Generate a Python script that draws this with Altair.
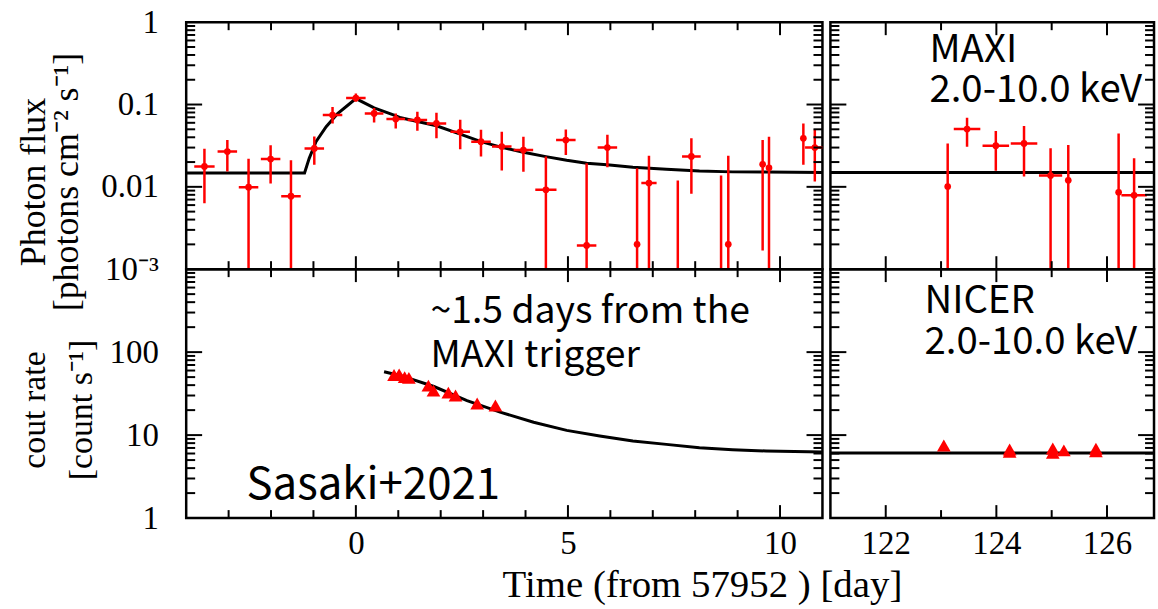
import altair as alt
import pandas as pd

# ---------------- data ----------------
# MAXI, early part (days from MJD 57952)
MAXI1_T = [-3.57, -3.03, -2.53, -2.01, -1.53, -0.98, -0.55, 0.0, 0.43, 0.94, 1.45, 1.90, 2.46, 2.95,
           3.44, 3.95, 4.48, 4.95, 5.44, 5.93, 6.63, 6.91, 7.59, 7.91, 8.61, 8.78, 9.59, 9.74, 10.55, 10.82]
MAXI1_F = [0.0177, 0.0268, 0.0099, 0.0218, 0.0077, 0.0293, 0.0744, 0.120, 0.078, 0.0665, 0.065, 0.059,
           0.0467, 0.0354, 0.0309, 0.028, 0.0092, 0.0371, 0.00194, 0.030, 0.002, 0.0111, None, 0.0234,
           None, 0.002, 0.0188, 0.017, 0.0388, 0.030]
MAXI1_LO = [0.0063, 0.0154, 0.001, 0.011, 0.001, 0.0186, 0.059, 0.108, 0.0606, 0.0513, 0.048, 0.0388,
            0.0286, 0.0233, 0.0158, 0.0153, 0.001, 0.0244, 0.001, 0.0173, 0.001, 0.001, 0.001, 0.00826,
            0.001, 0.001, 0.00169, 0.001, 0.0185, 0.0116]
MAXI1_HI = [0.029, 0.037, 0.022, 0.032, 0.021, 0.041, 0.093, 0.136, 0.091, 0.078, 0.0816, 0.0795,
            0.0653, 0.0494, 0.0468, 0.0407, 0.0233, 0.0499, 0.0193, 0.043, 0.0168, 0.0238, 0.0119, 0.0388,
            0.0137, 0.0238, 0.0371, 0.0407, 0.0589, 0.0499]
MAXI1_DT = [0.24, 0.23, 0.23, 0.23, 0.23, 0.23, 0.23, 0.23, 0.22, 0.22, 0.23, 0.23, 0.23, 0.23,
            0.23, 0.23, 0.25, 0.23, 0.23, 0.23, 0.0, 0.18, 0.0, 0.22, 0.0, 0.0, 0.0, 0.0, 0.0, 0.23]

# MAXI, late part
MAXI2_T = [123.12, 123.47, 123.99, 124.50, 124.98, 125.30, 126.21, 126.49]
MAXI2_F = [0.0101, 0.0504, 0.0316, 0.0337, 0.0137, 0.012, 0.0086, 0.0079]
MAXI2_LO = [0.001, 0.0308, 0.0157, 0.0134, 0.001, 0.001, 0.001, 0.001]
MAXI2_HI = [0.0337, 0.069, 0.0477, 0.0548, 0.0294, 0.0323, 0.0446, 0.0222]
MAXI2_DT = [0.0, 0.24, 0.24, 0.24, 0.21, 0.0, 0.0, 0.23]

# MAXI model curve
MAXI1_MODEL_T = [-4.0, -1.21, -1.10, -0.94, -0.70, -0.43, -0.19, 0.0, 0.43, 0.90, 1.06, 1.90, 2.46,
                 2.95, 3.44, 3.95, 4.48, 4.97, 5.44, 5.92, 6.53, 7.32, 8.10, 8.88, 9.66, 11.0]
MAXI1_MODEL_F = [0.0147, 0.0147, 0.0222, 0.0354, 0.0537, 0.0778, 0.098, 0.118, 0.091, 0.0745, 0.069,
                 0.0552, 0.0438, 0.0354, 0.0302, 0.0263, 0.0233, 0.021, 0.0194, 0.0185, 0.0173, 0.0164,
                 0.0156, 0.0152, 0.0151, 0.0149]
MAXI2_MODEL_T = [121.0, 126.85]
MAXI2_MODEL_F = [0.0149, 0.0149]

# NICER count rate
NICER1_T = [0.90, 1.02, 1.15, 1.25, 1.71, 1.83, 2.18, 2.35, 2.86, 3.29]
NICER1_R = [53, 54, 50, 49, 39.5, 34.4, 32.5, 30, 24, 22.7]
NICER2_T = [123.05, 124.24, 124.24, 125.02, 125.02, 125.22, 125.80, 125.80]
NICER2_R = [7.5, 6.7, 6.3, 6.9, 6.1, 6.55, 6.85, 6.4]

NICER1_MODEL_T = [0.665, 1.06, 1.84, 2.62, 3.40, 4.19, 4.97, 5.75, 6.53, 7.32, 8.10, 8.88, 9.67, 11.0]
NICER1_MODEL_R = [58, 52, 38.5, 26, 18.9, 14.3, 11.4, 9.73, 8.47, 7.73, 7.05, 6.67, 6.43, 6.25]
NICER2_MODEL_T = [121.0, 126.85]
NICER2_MODEL_R = [6.1, 6.1]

# axes
X1_DOMAIN = [-4, 11]
X2_DOMAIN = [121, 126.85]
Y1_DOMAIN = [0.001, 1]
Y2_DOMAIN = [1, 1000]
X1_LABELS = [0, 5, 10]
X2_LABELS = [122, 124, 126]
Y1_LABELS = [0.001, 0.01, 0.1, 1]
Y2_LABELS = [1, 10, 100]
X1_MAJOR = [0, 5, 10]
X1_MINOR = [-3, -2, -1, 1, 2, 3, 4, 6, 7, 8, 9]
X2_MAJOR = [122, 124, 126]
X2_MINOR = [123, 125]
Y1_MAJOR = [0.01, 0.1]
Y1_MINOR = [0.002, 0.003, 0.004, 0.005, 0.006, 0.007, 0.008, 0.009,
            0.02, 0.03, 0.04, 0.05, 0.06, 0.07, 0.08, 0.09,
            0.2, 0.3, 0.4, 0.5, 0.6, 0.7, 0.8, 0.9]
Y2_MAJOR = [10, 100]
Y2_MINOR = [2, 3, 4, 5, 6, 7, 8, 9, 20, 30, 40, 50, 60, 70, 80, 90,
            200, 300, 400, 500, 600, 700, 800, 900]

# annotations
ANN_TR_X = [122.79, 122.79]
ANN_TR_Y = [0.33, 0.108]
ANN_TR_TEXT = ["MAXI", "2.0-10.0 keV"]
ANN_BR_X = [122.70, 122.70]
ANN_BR_Y = [300, 96]
ANN_BR_TEXT = ["NICER", "2.0-10.0 keV"]
ANN_BL_X = [1.76, 1.76]
ANN_BL_Y = [225, 67]
ANN_BL_TEXT = ["~1.5 days from the", "MAXI trigger"]
ANN_SRC_X = [-2.58]
ANN_SRC_Y = [1.69]
ANN_SRC_TEXT = ["Sasaki+2021"]

# ---------------- styling ----------------
RED = "#ff0000"
SERIF = "Liberation Serif"
SANS = "Noto Sans CJK JP"
WL, WR = 639, 325
HT, HB = 248, 250


class Panel:
    def __init__(self, xdom, ydom, W, H, xaxis=None, yaxis=None):
        self.xdom, self.ydom, self.W, self.H = xdom, ydom, W, H
        self.xaxis, self.yaxis = xaxis, yaxis

    def X(self, field="x"):
        return alt.X(f"{field}:Q", scale=alt.Scale(domain=self.xdom, nice=False, zero=False),
                     axis=self.xaxis)

    def Y(self, field="y"):
        return alt.Y(f"{field}:Q", scale=alt.Scale(type="log", domain=self.ydom, nice=False),
                     axis=self.yaxis)

    def ticks(self, xmaj, xmin, ymaj, ymin):
        W, H = self.W, self.H
        out = []
        for vals, L in ((xmaj, 13), (xmin, 8)):
            base = alt.Chart(pd.DataFrame({"x": vals})).mark_rule(color="black", strokeWidth=2)
            out.append(base.encode(x=self.X(), y=alt.value(0), y2=alt.value(L)))
            out.append(base.encode(x=self.X(), y=alt.value(H), y2=alt.value(H - L)))
        for vals, L in ((ymaj, 16), (ymin, 9)):
            base = alt.Chart(pd.DataFrame({"y": vals})).mark_rule(color="black", strokeWidth=2)
            out.append(base.encode(y=self.Y(), x=alt.value(0), x2=alt.value(L)))
            out.append(base.encode(y=self.Y(), x=alt.value(W), x2=alt.value(W - L)))
        return out

    def text(self, xs, ys, texts, size):
        df = pd.DataFrame({"x": xs, "y": ys, "t": texts})
        return alt.Chart(df).mark_text(align="left", baseline="alphabetic", font=SANS, fontSize=size,
                                       color="black").encode(x=self.X(), y=self.Y(), text="t:N")

    def errors(self, T, F, LO, HI, DT):
        df = pd.DataFrame({"x": T, "y": F, "lo": LO, "hi": HI, "dt": DT})
        base = alt.Chart(df)
        vbar = base.mark_rule(color=RED, strokeWidth=2.5, clip=True).encode(
            x=self.X(), y=self.Y("lo"), y2="hi:Q")
        hbar = base.transform_filter("isValid(datum.y) && datum.dt > 0").transform_calculate(
            xa="datum.x - datum.dt", xb="datum.x + datum.dt").mark_rule(
            color=RED, strokeWidth=2.5, clip=True).encode(x=self.X("xa"), x2="xb:Q", y=self.Y())
        pts = base.transform_filter("isValid(datum.y)").mark_circle(
            color=RED, size=45, opacity=1, clip=True).encode(x=self.X(), y=self.Y())
        return [vbar, hbar, pts]

    def model(self, T, V):
        df = pd.DataFrame({"x": T, "y": V})
        return alt.Chart(df).mark_line(color="black", strokeWidth=3, clip=True).encode(
            x=self.X(), y=self.Y())

    def tri(self, T, V):
        df = pd.DataFrame({"x": T, "y": V})
        return alt.Chart(df).mark_point(shape="triangle-up", filled=True, color=RED, size=190,
                                        opacity=1, clip=True).encode(x=self.X(), y=self.Y())


AX_COMMON = dict(ticks=False, domain=False, grid=False, labelFont=SERIF, labelFontSize=33,
                 labelColor="black", titleFont=SERIF, titleColor="black", titleFontWeight="normal",
                 labelFlush=False)

y1_axis = alt.Axis(values=Y1_LABELS, labelPadding=28,
                   labelExpr="datum.value < 0.005 ? '10⁻³' : (datum.value < 0.05 ? '0.01' : (datum.value < 0.5 ? '0.1' : '1'))",
                   title=["Photon flux", "[photons cm⁻² s⁻¹]"], titleFontSize=36, titleAngle=270,
                   titleX=-142, titleY=160, titleAlign="center", titleBaseline="alphabetic",
                   titleLineHeight=33, **AX_COMMON)
y2_axis = alt.Axis(values=Y2_LABELS, labelPadding=28, format="d",
                   title=["cout rate", "[count s⁻¹]"], titleFontSize=34, titleAngle=270,
                   titleX=-142, titleY=141, titleAlign="center", titleBaseline="alphabetic",
                   titleLineHeight=47, **AX_COMMON)
x1_axis = alt.Axis(values=X1_LABELS, labelPadding=10, title="Time (from 57952 ) [day]",
                   titleFontSize=39, titleX=518, titleY=79, titleAlign="center",
                   titleBaseline="alphabetic", **AX_COMMON)
x2_axis = alt.Axis(values=X2_LABELS, labelPadding=10, title=None, **AX_COMMON)

# ---------------- panels ----------------
P_TL = Panel(X1_DOMAIN, Y1_DOMAIN, WL, HT, None, y1_axis)
P_TR = Panel(X2_DOMAIN, Y1_DOMAIN, WR, HT, None, None)
P_BL = Panel(X1_DOMAIN, Y2_DOMAIN, WL, HB, x1_axis, y2_axis)
P_BR = Panel(X2_DOMAIN, Y2_DOMAIN, WR, HB, x2_axis, None)

tl = alt.layer(
    P_TL.model(MAXI1_MODEL_T, MAXI1_MODEL_F),
    *P_TL.errors(MAXI1_T, MAXI1_F, MAXI1_LO, MAXI1_HI, MAXI1_DT),
    *P_TL.ticks(X1_MAJOR, X1_MINOR, Y1_MAJOR, Y1_MINOR),
).properties(width=WL, height=HT)

tr = alt.layer(
    P_TR.model(MAXI2_MODEL_T, MAXI2_MODEL_F),
    *P_TR.errors(MAXI2_T, MAXI2_F, MAXI2_LO, MAXI2_HI, MAXI2_DT),
    *P_TR.ticks(X2_MAJOR, X2_MINOR, Y1_MAJOR, Y1_MINOR),
    P_TR.text(ANN_TR_X, ANN_TR_Y, ANN_TR_TEXT, 38.5),
).properties(width=WR, height=HT)

bl = alt.layer(
    P_BL.model(NICER1_MODEL_T, NICER1_MODEL_R),
    P_BL.tri(NICER1_T, NICER1_R),
    *P_BL.ticks(X1_MAJOR, X1_MINOR, Y2_MAJOR, Y2_MINOR),
    P_BL.text(ANN_BL_X, ANN_BL_Y, ANN_BL_TEXT, 37.5),
    P_BL.text(ANN_SRC_X, ANN_SRC_Y, ANN_SRC_TEXT, 44),
).properties(width=WL, height=HB)

br = alt.layer(
    P_BR.model(NICER2_MODEL_T, NICER2_MODEL_R),
    P_BR.tri(NICER2_T, NICER2_R),
    *P_BR.ticks(X2_MAJOR, X2_MINOR, Y2_MAJOR, Y2_MINOR),
    P_BR.text(ANN_BR_X, ANN_BR_Y, ANN_BR_TEXT, 38.5),
).properties(width=WR, height=HB)

chart = alt.concat(tl, tr, bl, br, columns=2, spacing={"row": 0, "column": 8}, bounds="flush").configure_view(
    stroke="black", strokeWidth=2.5
).properties(padding={"left": 14, "top": 3, "right": 1, "bottom": 0}, background="white")

chart.save("out.html", embed_options={"renderer": "svg", "actions": False})
